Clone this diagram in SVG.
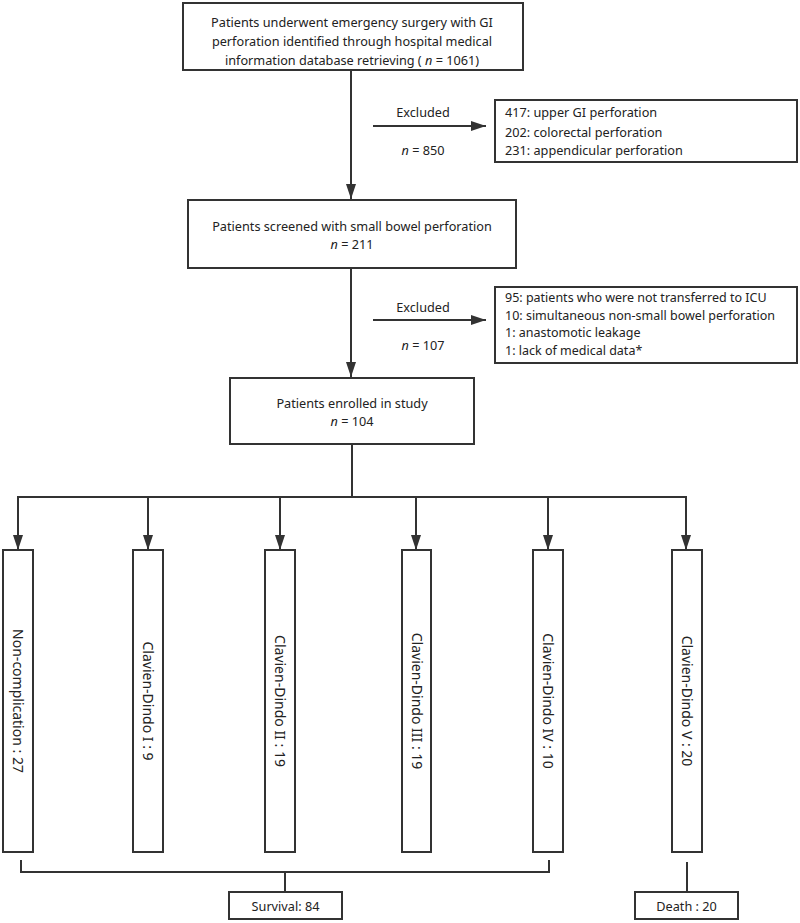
<svg xmlns="http://www.w3.org/2000/svg" width="800" height="923" viewBox="0 0 800 923">
<style>
.box{fill:#fff;stroke:#333;stroke-width:2}
.ln{fill:none;stroke:#333;stroke-width:2}
text{font-family:"Noto Sans","Open Sans","Liberation Sans",sans-serif;font-size:12.7px;fill:#222}
.c{text-anchor:middle}
.v{font-size:14px;text-anchor:middle}
.s{font-size:12.5px}
</style>
<defs>
<marker id="ah" viewBox="0 0 15 10" refX="15" refY="5" markerWidth="15" markerHeight="10" markerUnits="userSpaceOnUse" orient="auto">
<path d="M0,0 L15,5 L0,10 Z" fill="#333"/>
</marker>
</defs>
<g id="connectors">
<line class="ln" x1="351" y1="70" x2="351" y2="199" marker-end="url(#ah)"/>
<line class="ln" x1="373" y1="126" x2="486" y2="126" marker-end="url(#ah)"/>
<line class="ln" x1="351" y1="268" x2="351" y2="377" marker-end="url(#ah)"/>
<line class="ln" x1="373" y1="320" x2="486" y2="320" marker-end="url(#ah)"/>
<line class="ln" x1="352" y1="444" x2="352" y2="497"/>
<line class="ln" x1="17" y1="497" x2="687" y2="497"/>
<line class="ln" x1="18" y1="496" x2="18" y2="550" marker-end="url(#ah)"/>
<line class="ln" x1="148" y1="496" x2="148" y2="550" marker-end="url(#ah)"/>
<line class="ln" x1="280" y1="496" x2="280" y2="550" marker-end="url(#ah)"/>
<line class="ln" x1="416" y1="496" x2="416" y2="550" marker-end="url(#ah)"/>
<line class="ln" x1="548" y1="496" x2="548" y2="550" marker-end="url(#ah)"/>
<line class="ln" x1="686" y1="496" x2="686" y2="550" marker-end="url(#ah)"/>
<polyline class="ln" points="21,860 21,872 549,872 549,860"/>
<line class="ln" x1="285" y1="872" x2="285" y2="892"/>
<line class="ln" x1="687" y1="862" x2="687" y2="892"/>
</g>
<g id="n-top">
<rect class="box" x="183" y="3" width="340" height="67"/>
<text class="c" x="352" y="27">Patients underwent emergency surgery with GI</text>
<text class="c" x="352" y="46">perforation identified through hospital medical</text>
<text class="c" x="352" y="65">information database retrieving ( <tspan font-style="italic">n</tspan> = 1061)</text>
</g>
<g id="lbl-ex1">
<text class="c" x="423" y="117">Excluded</text>
<text class="c" x="423" y="155"><tspan font-style="italic">n</tspan> = 850</text>
</g>
<g id="n-ex1">
<rect class="box" x="495" y="100" width="302" height="62"/>
<text x="505" y="117">417: upper GI perforation</text>
<text x="505" y="137">202: colorectal perforation</text>
<text x="505" y="155">231: appendicular perforation</text>
</g>
<g id="n-screen">
<rect class="box" x="188" y="200" width="328" height="68"/>
<text class="c" x="352" y="231">Patients screened with small bowel perforation</text>
<text class="c" x="352" y="249"><tspan font-style="italic">n</tspan> = 211</text>
</g>
<g id="lbl-ex2">
<text class="c" x="423" y="312">Excluded</text>
<text class="c" x="423" y="350"><tspan font-style="italic">n</tspan> = 107</text>
</g>
<g id="n-ex2">
<rect class="box" x="495" y="287" width="302" height="76"/>
<text class="s" x="505" y="302">95: patients who were not transferred to ICU</text>
<text class="s" x="505" y="319.5">10: simultaneous non-small bowel perforation</text>
<text class="s" x="505" y="337">1: anastomotic leakage</text>
<text class="s" x="505" y="354.5">1: lack of medical data*</text>
</g>
<g id="n-enrolled">
<rect class="box" x="230" y="378" width="244" height="66"/>
<text class="c" x="352" y="408">Patients enrolled in study</text>
<text class="c" x="352" y="426"><tspan font-style="italic">n</tspan> = 104</text>
</g>
<g id="n-c0">
<rect class="box" x="3" y="550" width="30" height="302"/>
<text class="v" transform="translate(18,701) rotate(90)" y="5">Non-complication : 27</text>
</g>
<g id="n-c1">
<rect class="box" x="133" y="550" width="30" height="302"/>
<text class="v" transform="translate(148,701) rotate(90)" y="5">Clavien-Dindo I : 9</text>
</g>
<g id="n-c2">
<rect class="box" x="265" y="550" width="30" height="302"/>
<text class="v" transform="translate(280,701) rotate(90)" y="5">Clavien-Dindo II : 19</text>
</g>
<g id="n-c3">
<rect class="box" x="402" y="550" width="29" height="302"/>
<text class="v" transform="translate(416.5,701) rotate(90)" y="5">Clavien-Dindo III : 19</text>
</g>
<g id="n-c4">
<rect class="box" x="533" y="550" width="30" height="302"/>
<text class="v" transform="translate(548,701) rotate(90)" y="5">Clavien-Dindo IV : 10</text>
</g>
<g id="n-c5">
<rect class="box" x="672" y="550" width="30" height="302"/>
<text class="v" transform="translate(687,701) rotate(90)" y="5">Clavien-Dindo V : 20</text>
</g>
<g id="n-survival">
<rect class="box" x="229" y="892" width="113" height="27"/>
<text class="c" x="285.5" y="911">Survival: 84</text>
</g>
<g id="n-death">
<rect class="box" x="635" y="892" width="103" height="27"/>
<text class="c" x="686.5" y="911">Death : 20</text>
</g>
</svg>
